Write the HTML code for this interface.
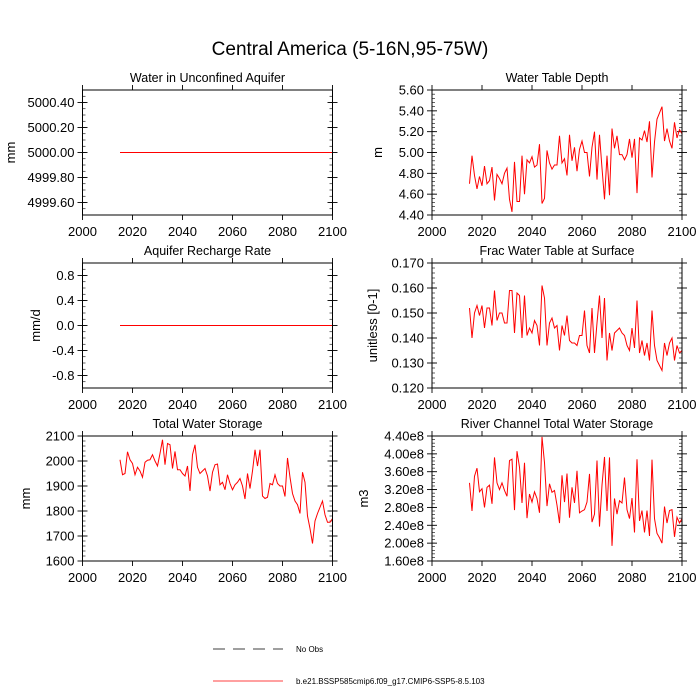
<!DOCTYPE html>
<html><head><meta charset="utf-8"><style>
html,body{margin:0;padding:0;background:#fff;}
svg{display:block;font-family:"Liberation Sans",Arial,sans-serif;}
</style></head><body>
<svg id="chart" width="700" height="700" viewBox="0 0 700 700" xmlns="http://www.w3.org/2000/svg">
<text x="350" y="55" text-anchor="middle" font-size="19">Central America (5-16N,95-75W)</text>
<g id="panels"></g>
<g>
<line x1="213" y1="649" x2="283" y2="649" stroke="#000" stroke-width="0.8" stroke-dasharray="12,8"/>
<text x="296" y="652" font-size="8">No Obs</text>
<line x1="213" y1="681" x2="283" y2="681" stroke="#f00" stroke-width="0.8"/>
<text x="296" y="684" font-size="8">b.e21.BSSP585cmip6.f09_g17.CMIP6-SSP5-8.5.103</text>
</g>
</svg>
<script>
const xTicks = [2000,2020,2040,2060,2080,2100];
const startYear = 2015;
const aquiferVals = [5000,5000,5000,5000,5000,5000,5000,5000,5000,5000,5000,5000,5000,5000,5000,5000,5000,5000,5000,5000,5000,5000,5000,5000,5000,5000,5000,5000,5000,5000,5000,5000,5000,5000,5000,5000,5000,5000,5000,5000,5000,5000,5000,5000,5000,5000,5000,5000,5000,5000,5000,5000,5000,5000,5000,5000,5000,5000,5000,5000,5000,5000,5000,5000,5000,5000,5000,5000,5000,5000,5000,5000,5000,5000,5000,5000,5000,5000,5000,5000,5000,5000,5000,5000,5000,5000];
const rechargeVals = [0,0,0,0,0,0,0,0,0,0,0,0,0,0,0,0,0,0,0,0,0,0,0,0,0,0,0,0,0,0,0,0,0,0,0,0,0,0,0,0,0,0,0,0,0,0,0,0,0,0,0,0,0,0,0,0,0,0,0,0,0,0,0,0,0,0,0,0,0,0,0,0,0,0,0,0,0,0,0,0,0,0,0,0,0,0];
const wtdVals = [4.70,4.97,4.78,4.65,4.77,4.68,4.87,4.70,4.73,4.86,4.54,4.79,4.75,4.70,4.80,4.85,4.55,4.43,4.91,4.53,4.53,4.97,4.60,4.93,4.90,4.96,4.86,4.88,5.08,4.51,4.56,5.02,4.90,4.84,4.88,4.88,5.16,4.90,4.94,4.78,5.17,4.92,5.05,4.82,5.03,5.11,5.00,5.00,4.77,5.05,5.20,4.74,5.17,4.85,4.55,4.97,4.59,5.23,5.04,5.16,4.98,4.98,4.93,4.98,5.13,4.95,5.13,4.61,5.14,5.12,5.21,5.10,5.30,4.76,5.10,5.32,5.38,5.44,5.11,5.23,5.11,5.04,5.29,5.14,5.22,5.18];
const fracVals = [0.152,0.140,0.150,0.153,0.149,0.153,0.144,0.152,0.152,0.145,0.159,0.147,0.150,0.150,0.146,0.146,0.159,0.159,0.142,0.158,0.157,0.140,0.157,0.141,0.144,0.142,0.147,0.145,0.137,0.161,0.156,0.137,0.146,0.148,0.144,0.145,0.135,0.145,0.141,0.149,0.139,0.138,0.138,0.137,0.141,0.141,0.151,0.137,0.134,0.152,0.134,0.146,0.157,0.140,0.156,0.131,0.142,0.135,0.142,0.143,0.144,0.142,0.141,0.137,0.135,0.144,0.136,0.155,0.134,0.139,0.133,0.138,0.131,0.151,0.137,0.131,0.129,0.127,0.138,0.133,0.138,0.140,0.131,0.137,0.134,0.135];
const twsVals = [2005,1945,1950,2037,2005,1990,1945,1975,1960,1935,1995,2003,2005,2025,2000,1980,2030,2085,1985,2070,2065,1970,2038,1965,1965,1950,1940,1980,1880,2025,2065,1975,1950,1960,1970,1940,1880,1955,1985,1988,1905,1915,1885,1945,1910,1885,1905,1915,1930,1900,1848,1950,1890,1960,2045,1980,2045,1860,1850,1855,1910,1905,1945,1910,1900,1900,1858,2012,1935,1870,1840,1825,1790,1955,1915,1780,1730,1670,1760,1790,1815,1840,1785,1755,1755,1770];
const riverVals = [3.35,2.72,3.50,3.68,3.15,3.22,2.80,3.25,3.30,2.88,3.92,3.35,3.20,3.35,3.18,3.05,3.85,3.88,2.74,4.06,3.70,2.90,3.80,2.56,3.10,2.92,3.15,3.00,2.68,4.38,3.80,2.83,3.33,3.14,3.18,2.85,2.45,3.52,2.92,3.56,2.57,3.25,2.90,3.62,2.68,2.72,2.75,2.92,3.55,2.47,2.65,3.85,2.37,3.30,3.93,2.72,3.92,1.94,3.00,2.65,2.95,2.90,3.47,2.75,2.55,3.01,2.24,3.88,2.50,2.73,2.24,2.73,2.16,3.87,2.55,2.22,2.12,2.00,2.82,2.45,2.73,2.75,2.14,2.58,2.45,2.55];
const aquiferTicks = ["4999.60","4999.80","5000.00","5000.20","5000.40"];
const rechargeTicks = ["-0.8","-0.4","0.0","0.4","0.8"];
const wtdTicks = ["4.40","4.60","4.80","5.00","5.20","5.40","5.60"];
const fracTicks = ["0.120","0.130","0.140","0.150","0.160","0.170"];
const twsTicks = ["1600","1700","1800","1900","2000","2100"];
const riverTicks = ["1.60e8","2.00e8","2.40e8","2.80e8","3.20e8","3.60e8","4.00e8","4.40e8"];

const panels = [
 {name:'water-in-unconfined-aquifer',title:'Water in Unconfined Aquifer',unit:'mm',x0:82.5,y0:90,ymin:4999.5,ymax:5000.5,vals:aquiferVals,ticks:aquiferTicks,scale:1,minor:0.05,ulx:15},
 {name:'aquifer-recharge-rate',title:'Aquifer Recharge Rate',unit:'mm/d',x0:82.5,y0:263,ymin:-1,ymax:1,vals:rechargeVals,ticks:rechargeTicks,scale:1,minor:0.1,ulx:40},
 {name:'total-water-storage',title:'Total Water Storage',unit:'mm',x0:82.5,y0:436,ymin:1600,ymax:2100,vals:twsVals,ticks:twsTicks,scale:1,minor:20,ulx:30},
 {name:'water-table-depth',title:'Water Table Depth',unit:'m',x0:432,y0:90,ymin:4.4,ymax:5.6,vals:wtdVals,ticks:wtdTicks,scale:1,minor:0.04,ulx:382},
 {name:'frac-water-table-at-surface',title:'Frac Water Table at Surface',unit:'unitless [0-1]',x0:432,y0:263,ymin:0.12,ymax:0.17,vals:fracVals,ticks:fracTicks,scale:1,minor:0.002,ulx:377},
 {name:'river-channel-total-water-storage',title:'River Channel Total Water Storage',unit:'m3',x0:432,y0:436,ymin:1.6,ymax:4.4,vals:riverVals,ticks:riverTicks,scale:1e8,minor:0.08,ulx:368}
];
const W=250,H=125,NS='http://www.w3.org/2000/svg';
const root=document.getElementById('panels');
function mk(tag,attrs,parent){const e=document.createElementNS(NS,tag);for(const k in attrs)e.setAttribute(k,attrs[k]);parent.appendChild(e);return e;}
panels.forEach(p=>{
 const g=mk('g',{},root);
 
 
 const xs=v=>p.x0+(v-2000)/100*W;
 const ys=v=>p.y0+H-(v-p.ymin)/(p.ymax-p.ymin)*H;
 const t=mk('text',{x:p.x0+W/2,y:p.y0-8,'text-anchor':'middle','font-size':12.5},g);
 t.textContent=p.title;
 
 
 for(let v=p.ymin;v<=p.ymax+1e-9;v+=p.minor){const y=ys(v);
  mk('line',{x1:p.x0,x2:p.x0+3,y1:y,y2:y,stroke:'#000','stroke-width':0.6},g);
  mk('line',{x1:p.x0+W,x2:p.x0+W-3,y1:y,y2:y,stroke:'#000','stroke-width':0.6},g);}
 p.ticks.forEach(s=>{const v=parseFloat(s)/p.scale;const y=ys(v);
  mk('line',{x1:p.x0-5,x2:p.x0+5,y1:y,y2:y,stroke:'#000','stroke-width':0.9},g);
  mk('line',{x1:p.x0+W-5,x2:p.x0+W+5,y1:y,y2:y,stroke:'#000','stroke-width':0.9},g);
  const l=mk('text',{x:p.x0-8,y:y+4.5,'text-anchor':'end','font-size':13},g);l.textContent=s;
  
  });
 xTicks.forEach(v=>{const x=xs(v);
  mk('line',{x1:x,x2:x,y1:p.y0+H,y2:p.y0+H+5,stroke:'#000','stroke-width':0.9},g);
  mk('line',{x1:x,x2:x,y1:p.y0,y2:p.y0-5,stroke:'#000','stroke-width':0.9},g);
  const l=mk('text',{x:x,y:p.y0+H+21,'text-anchor':'middle','font-size':13},g);l.textContent=v;
  
  });
 const ul=mk('text',{x:p.ulx,y:p.y0+H/2,'text-anchor':'middle','font-size':13,transform:`rotate(-90 ${p.ulx} ${p.y0+H/2})`},g);
 ul.textContent=p.unit;
 
 
 const pts=p.vals.map((v,i)=>xs(startYear+i).toFixed(2)+','+ys(v).toFixed(2)).join(' ');
 const line=mk('polyline',{points:pts,fill:'none',stroke:'#f00','stroke-width':1},g);
 
 
 const box=mk('rect',{x:p.x0,y:p.y0,width:W,height:H,fill:'none',stroke:'#000','stroke-width':1},g);
 
 
});
</script>
</body></html>
